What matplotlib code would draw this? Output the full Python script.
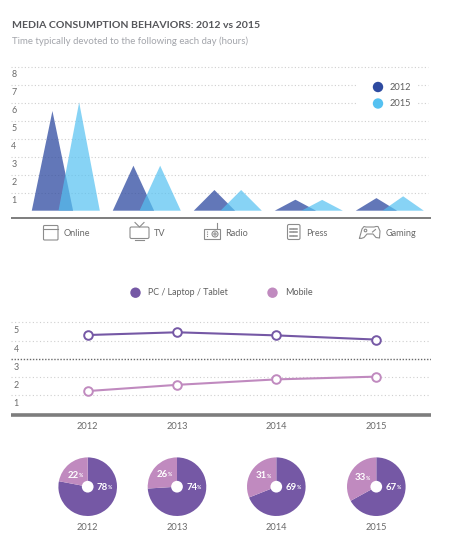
import matplotlib
matplotlib.use("Agg")
import matplotlib.pyplot as plt
from matplotlib.patches import Rectangle, Circle, FancyBboxPatch

plt.rcParams['font.family'] = ['Lato', 'DejaVu Sans']

W, H = 460, 555
categories = ["Online", "TV", "Radio", "Press", "Gaming"]
values_2012 = [5.54, 2.5, 1.15, 0.61, 0.7]
values_2015 = [6.02, 2.5, 1.15, 0.6, 0.8]
y_ticks_top = [1, 2, 3, 4, 5, 6, 7, 8]

years = ["2012", "2013", "2014", "2015"]
pc_hours = [4.3, 4.45, 4.28, 4.05]
mobile_hours = [1.23, 1.57, 1.87, 2.02]
y_ticks_line = [1, 2, 3, 4, 5]
pc_share = [78, 74, 69, 67]
mobile_share = [22, 26, 31, 33]

C2012 = "#2e4aa0"
C2015 = "#55c1f1"
CPC = "#7558a5"
CMOB = "#c08abf"
GRID = "#cfcfcf"
TXT = "#6a6a6a"
AXIS = "#7d7d7d"
ICON = "#8c8c8c"

fig = plt.figure(figsize=(W/100, H/100), dpi=100, facecolor="white")

def axpx(x0, y0, x1, y1, **kw):
    return fig.add_axes([x0/W, 1-y1/H, (x1-x0)/W, (y1-y0)/H], **kw)

def ftext(x, y, s, **kw):
    kw.setdefault("va", "center")
    fig.text(x/W, 1-y/H, s, **kw)

ftext(12, 25.5, "MEDIA CONSUMPTION BEHAVIORS: 2012 vs 2015", fontsize=7.56, fontweight="bold", color="#55565a")
ftext(12, 41.5, "Time typically devoted to the following each day (hours)", fontsize=6.9, color="#a3a5ab")

# ---- triangle chart: 81 px per category, 18 px per hour
x_left = (11-65.8)/81
x_right = (431-65.8)/81
ax = axpx(11, 58, 431, 219.5)
ax.set_xlim(x_left, x_right)
ax.set_ylim((210.7-219.5)/18, (210.7-58)/18)
ax.axis("off")
for t in y_ticks_top:
    ax.plot([x_left, (428-65.8)/81], [t, t], color=GRID, lw=0.8, ls=(0, (1, 2)), zorder=1)
    ax.text(x_left+0.035, t-0.42, str(t), fontsize=6.4, color=TXT, ha="center", va="center")
half, off = 0.255, 0.165
for i, (a, b) in enumerate(zip(values_2012, values_2015)):
    ax.fill([i-off-half, i-off, i-off+half], [0, a, 0], color=C2012, alpha=0.75, lw=0, zorder=2)
    ax.fill([i+off-half, i+off, i+off+half], [0, b, 0], color=C2015, alpha=0.7, lw=0, zorder=3)
ax.axhline((210.7-218.3)/18, color=AXIS, lw=1.4, zorder=4)

# overlay in pixel coordinates for legends and icons
ov = fig.add_axes([0, 0, 1, 1], facecolor="none")
ov.set_xlim(0, W); ov.set_ylim(H, 0); ov.axis("off")

ov.add_patch(Rectangle((357, 70), 60, 42, fc="white", ec="none"))
for y, c, s in [(87, C2012, "2012"), (103.5, C2015, "2015")]:
    ov.add_patch(Circle((378, y), 5.2, fc=c, ec="none"))
    ov.text(390, y, s, fontsize=6.7, color="#5e5e5e", va="center")

# icons
ic = dict(fc="none", ec=ICON, lw=0.8)
ln = dict(color=ICON, lw=0.8)
ov.add_patch(FancyBboxPatch((43.5, 225.5), 14.5, 14.5, boxstyle="round,pad=0,rounding_size=1", **ic))
ov.plot([43.5, 58], [229, 229], **ln)
ov.add_patch(FancyBboxPatch((130, 227), 19, 11.5, boxstyle="round,pad=0,rounding_size=1.5", **ic))
ov.plot([135, 139.5, 144], [222.5, 227, 222.5], **ln)
ov.plot([135, 144], [239.5, 239.5], **ln)
ov.add_patch(Rectangle((204, 228.5), 16, 10.5, **ic))
ov.add_patch(Circle((215, 234), 3, **ic))
ov.add_patch(Circle((215, 234), 1.1, **ic))
ov.plot([217, 217], [223, 228.5], **ln)
ov.plot([207, 207], [231, 237], color=ICON, lw=0.8, ls=(0, (1, 1)))
ov.add_patch(FancyBboxPatch((287.5, 224.5), 12.5, 15, boxstyle="round,pad=0,rounding_size=1.5", **ic))
for yy in (228.5, 232, 235.5):
    ov.plot([290, 293], [yy, yy], color=ICON, lw=1.1)
    ov.plot([294.5, 297.5], [yy, yy], color=ICON, lw=1.1)
ov.plot([359.5, 362, 364, 366, 374, 376, 378, 380, 379.5, 376, 373, 367, 364, 361, 359.5],
        [238, 229, 226.5, 227, 227, 226.5, 226.5, 231, 238, 237.5, 234, 234, 237.5, 238.5, 238], **ln)
ov.add_patch(Circle((365.5, 230.5), 1.3, **ic))
ov.plot([372.5, 375.5], [232, 229.5], **ln)

for x, s in zip([76.7, 160, 237, 317, 401], categories):
    ov.text(x, 233.5, s, fontsize=6.6, color=TXT, ha="center", va="center")

# line chart legend
for x, c in [(135.5, CPC), (272.5, CMOB)]:
    ov.add_patch(Circle((x, 292.7), 5.2, fc=c, ec="none"))
ov.text(148, 292.7, "PC / Laptop / Tablet", fontsize=6.4, color="#5e5e5e", va="center")
ov.text(285, 292.7, "Mobile", fontsize=6.5, color="#5e5e5e", va="center")

# ---- line chart: 18.25 px per hour, zero at 413.5
px = [87.7, 177, 276.3, 376.3]
ax2 = axpx(11, 315, 431, 417)
ax2.set_xlim(11, 431)
ax2.set_ylim((413.5-417)/18.25, (413.5-315)/18.25)
ax2.axis("off")
for t in y_ticks_line:
    dark = t == 3
    ax2.axhline(t, color="#6a6a6a" if dark else GRID, lw=1.0 if dark else 0.8,
                ls=(0, (1, 1.2 if dark else 2.2)), zorder=1)
    ax2.text(16, t-0.47, str(t), fontsize=6.4, color=TXT, ha="center", va="center")
ax2.axhline((413.5-415)/18.25, color=AXIS, lw=2.6, zorder=2)
ax2.plot(px, pc_hours, color=CPC, lw=1.5, marker="o", ms=6.2, mfc="white", mec=CPC, mew=1.4, zorder=4)
ax2.plot(px, mobile_hours, color=CMOB, lw=1.5, marker="o", ms=6.2, mfc="white", mec=CMOB, mew=1.4, zorder=4)
for x, s in zip(px, years):
    ov.text(x, 426.5, s, fontsize=6.7, color=TXT, ha="center", va="center")

# ---- pies
R = 29.3
mob_dx = [-14, -14.7, -15.3, -16.3]
mob_y = [475, 474.5, 476, 478]
for x, s, p, m, dx, my in zip(px, years, pc_share, mobile_share, mob_dx, mob_y):
    a = axpx(x-R, 486.7-R, x+R, 486.7+R)
    a.pie([p, m], colors=[CPC, CMOB], startangle=90, counterclock=False, radius=1,
          wedgeprops=dict(lw=0))
    a.add_patch(Circle((0, 0), 0.2, fc="white", ec="none", zorder=5))
    a.set_xlim(-1, 1); a.set_ylim(-1, 1)
    lab = dict(color="white", ha="center", va="center", fontweight="bold", zorder=6)
    ov.text(x+14.7, 487, f"{p}", fontsize=6.9, **lab)
    ov.text(x+22.3, 487.5, "%", fontsize=3.8, **lab)
    ov.text(x+dx, my, f"{m}", fontsize=6.9, **lab)
    ov.text(x+dx+7.6, my+0.5, "%", fontsize=3.8, **lab)
    ov.text(x, 527, s, fontsize=6.7, color=TXT, ha="center", va="center")

ov.set_zorder(10)
fig.savefig("out.png", dpi=100)
